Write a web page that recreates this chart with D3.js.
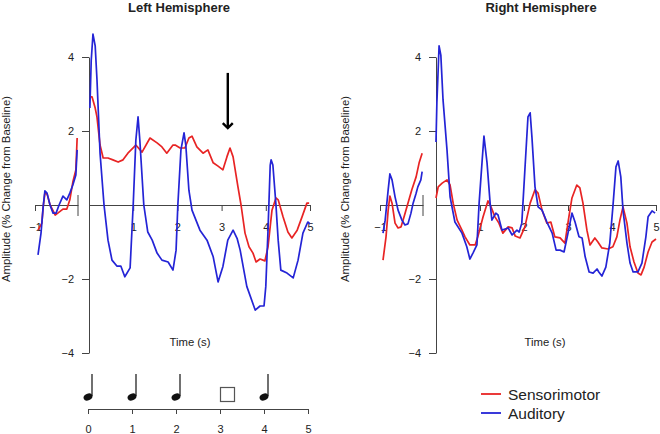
<!DOCTYPE html>
<html>
<head>
<meta charset="utf-8">
<script src="https://cdn.jsdelivr.net/npm/d3@7"></script>
<style>
body { margin: 0; background: #fff; }
svg text { font-family: "Liberation Sans", Arial, sans-serif; fill: #222; }
</style>
</head>
<body>
<svg id="vis" width="660" height="434"></svg>
<script>
// values: [time (s), amplitude (% change)]
var leftSensorimotorPre = [[-0.93,-0.68],[-0.84,-0.49],[-0.81,-0.05],[-0.77,0.32],[-0.72,0.3],[-0.65,0],[-0.53,-0.27],[-0.47,-0.22],[-0.35,-0.11],[-0.26,-0.11],[-0.19,0.14],[-0.12,0.62],[-0.05,0.95],[-0.02,1.81]];
var leftAuditoryPre = [[-0.93,-1.35],[-0.86,-0.76],[-0.81,-0.05],[-0.77,0.38],[-0.72,0.32],[-0.65,0],[-0.58,-0.22],[-0.51,-0.22],[-0.44,0],[-0.35,0.24],[-0.26,0.14],[-0.19,0.32],[-0.12,0.54],[-0.05,0.81],[-0.02,1.49]];
var leftSensorimotor = [[0.02,2.92],[0.07,2.92],[0.14,2.62],[0.18,2.38],[0.25,1.62],[0.32,1.27],[0.43,1.27],[0.54,1.22],[0.66,1.16],[0.77,1.22],[0.88,1.4],[1.06,1.62],[1.2,1.43],[1.38,1.81],[1.54,1.68],[1.65,1.57],[1.76,1.4],[1.9,1.62],[1.95,1.62],[2.06,1.54],[2.17,1.54],[2.26,1.81],[2.33,1.86],[2.44,1.57],[2.58,1.4],[2.69,1.49],[2.81,1.14],[2.92,1.05],[3.03,0.95],[3.12,1.3],[3.19,1.54],[3.26,1.3],[3.37,0.49],[3.44,0],[3.53,-0.76],[3.62,-1.13],[3.71,-1.3],[3.78,-1.54],[3.87,-1.46],[3.98,-1.51],[4.05,-1.13],[4.14,-0.14],[4.23,0.19],[4.28,0.14],[4.39,-0.32],[4.5,-0.73],[4.59,-0.89],[4.71,-0.68],[4.82,-0.32],[4.93,0.05],[4.98,0.05]];
var leftAuditory = [[0.02,2.62],[0.05,3.9],[0.09,4.62],[0.14,4.3],[0.18,3.4],[0.25,1.4],[0.34,0],[0.43,-0.95],[0.52,-1.49],[0.63,-1.65],[0.72,-1.65],[0.81,-1.94],[0.93,-1.7],[1.0,0],[1.06,1.75],[1.11,2.38],[1.15,1.75],[1.24,0],[1.33,-0.73],[1.43,-0.95],[1.54,-1.3],[1.65,-1.49],[1.79,-1.54],[1.9,-1.76],[1.97,-1.22],[2.01,0],[2.08,1.49],[2.15,1.95],[2.19,1.62],[2.26,0.4],[2.33,-0.14],[2.51,-0.68],[2.67,-0.95],[2.81,-1.4],[2.92,-2.08],[3.03,-1.66],[3.14,-0.95],[3.26,-0.68],[3.35,-0.9],[3.42,-1.22],[3.57,-2.2],[3.76,-2.84],[3.87,-2.73],[3.96,-2.73],[4.0,-2.2],[4.05,-0.68],[4.1,1.08],[4.12,1.22],[4.16,1.08],[4.23,0],[4.28,-0.95],[4.34,-1.76],[4.48,-1.84],[4.62,-1.97],[4.73,-1.49],[4.84,-0.76],[4.95,-0.46],[5.0,-0.51]];

var rightSensorimotorPre = [[-0.93,-1.49],[-0.86,-0.86],[-0.81,-0.14],[-0.77,0.24],[-0.72,0.05],[-0.65,-0.49],[-0.58,-0.62],[-0.51,-0.59],[-0.44,-0.32],[-0.35,0.05],[-0.26,0.41],[-0.16,0.76],[-0.09,1.14],[-0.02,1.4]];
var rightAuditoryPre = [[-0.93,-0.76],[-0.88,-0.41],[-0.81,0.41],[-0.77,0.84],[-0.72,0.68],[-0.65,0.22],[-0.58,-0.14],[-0.49,-0.41],[-0.42,-0.54],[-0.35,-0.51],[-0.28,-0.22],[-0.23,0.05],[-0.16,0.32],[-0.12,0.49],[-0.05,0.68],[-0.02,0.9]];
var rightSensorimotor = [[0.0,0.19],[0.05,0.49],[0.14,0.59],[0.25,0.68],[0.32,0.54],[0.39,0.05],[0.48,-0.41],[0.59,-0.68],[0.66,-0.86],[0.77,-1.08],[0.89,-1.08],[0.95,-0.86],[1.07,-0.32],[1.18,0.11],[1.25,-0.05],[1.34,-0.32],[1.43,-0.49],[1.52,-0.76],[1.64,-0.59],[1.73,-0.62],[1.8,-0.84],[1.91,-0.89],[2.02,-0.59],[2.14,0.05],[2.25,0.41],[2.32,0.32],[2.41,-0.14],[2.52,-0.49],[2.61,-0.46],[2.7,-0.86],[2.82,-0.89],[2.93,-1.03],[3.02,-0.32],[3.09,0.19],[3.2,0.54],[3.27,0.46],[3.34,0.05],[3.43,-0.68],[3.5,-1.08],[3.61,-0.89],[3.68,-1.0],[3.77,-1.16],[3.91,-1.19],[4.02,-1.13],[4.11,-0.86],[4.18,-0.41],[4.25,-0.05],[4.34,-0.49],[4.41,-1.13],[4.5,-1.54],[4.59,-1.84],[4.66,-1.89],[4.73,-1.68],[4.82,-1.27],[4.91,-1.0],[5.0,-0.92]];
var rightAuditory = [[0.0,1.7],[0.02,2.76],[0.07,4.3],[0.11,4.05],[0.16,2.84],[0.25,1.49],[0.32,0.22],[0.43,-0.46],[0.59,-0.76],[0.7,-1.13],[0.77,-1.46],[0.84,-1.3],[0.93,-1.08],[0.98,0.05],[1.05,1.22],[1.09,1.86],[1.16,1.14],[1.23,0.05],[1.27,-0.41],[1.36,-0.22],[1.41,-0.27],[1.5,-0.68],[1.57,-0.65],[1.64,-0.62],[1.73,-0.81],[1.84,-0.68],[1.89,-0.73],[1.95,-0.49],[2.02,0.95],[2.09,2.38],[2.14,2.49],[2.18,1.84],[2.25,0.49],[2.32,-0.05],[2.41,-0.14],[2.52,-0.46],[2.64,-0.76],[2.73,-1.22],[2.82,-1.22],[2.91,-1.27],[3.0,-0.76],[3.09,-0.22],[3.16,-0.46],[3.25,-0.86],[3.32,-0.89],[3.39,-1.4],[3.48,-1.81],[3.57,-1.84],[3.66,-1.73],[3.7,-1.81],[3.77,-1.92],[3.86,-1.68],[3.95,-1.03],[4.02,-0.05],[4.09,1.03],[4.14,1.19],[4.2,0.76],[4.25,-0.14],[4.34,-1.03],[4.41,-1.57],[4.48,-1.81],[4.59,-1.81],[4.68,-1.57],[4.77,-0.86],[4.82,-0.32],[4.91,-0.16],[4.98,-0.22]];

var seriesNames = ["Sensorimotor", "Auditory"];
var seriesColors = ["#e82424", "#2424d6"];
var yTicks = [-4, -2, 2, 4];
var xTicks = [1, 2, 3, 4, 5];
var preTicks = [-1];
var stripTicks = [0, 1, 2, 3, 4, 5];
var beatTimes = [0, 1, 2, 4];   // notes
var probeTimes = [3];           // empty square
var arrowTime = 3.14, arrowFrom = 3.57, arrowTo = 2.08;

var svg = d3.select("#vis");
var fmt = d3.format("d");

var panels = [
  { title: "Left Hemisphere", titleX: 179, preLeft: 35, axisX: 89, axisRight: 310, yTitleX: 10, timeX: 190,
    pre: [leftSensorimotorPre, leftAuditoryPre], main: [leftSensorimotor, leftAuditory], arrow: true },
  { title: "Right Hemisphere", titleX: 541, preLeft: 380, axisX: 436, axisRight: 656, yTitleX: 349, timeX: 545,
    pre: [rightSensorimotorPre, rightAuditoryPre], main: [rightSensorimotor, rightAuditory], arrow: false }
];

function styleAxis(g) {
  g.selectAll("path, line").attr("stroke", "#444").attr("stroke-width", 1);
  g.selectAll("text").style("font-size", "11px").attr("fill", "#222");
}

var y = d3.scaleLinear().domain([-4, 4]).range([353, 57]);

panels.forEach(function(p) {
  var xPre = d3.scaleLinear().domain([-1, 0]).range([p.preLeft, p.preLeft + 43]);
  var xMain = d3.scaleLinear().domain([0, 5]).range([p.axisX, p.axisRight]);
  var g = svg.append("g");

  g.append("text")
    .attr("x", p.titleX).attr("y", 12)
    .attr("text-anchor", "middle")
    .style("font-size", "13px").style("font-weight", "bold")
    .text(p.title);

  var yG = g.append("g").attr("transform", "translate(" + p.axisX + ",0)")
    .call(d3.axisLeft(y).tickValues(yTicks).tickFormat(fmt).tickSize(7).tickPadding(8).tickSizeOuter(0));
  styleAxis(yG);

  var xG = g.append("g").attr("transform", "translate(0," + y(0) + ")")
    .call(d3.axisBottom(xMain).tickValues(xTicks).tickFormat(fmt).tickSize(6).tickPadding(12).tickSizeOuter(0));
  styleAxis(xG);

  var preG = g.append("g").attr("transform", "translate(0," + y(0) + ")")
    .call(d3.axisBottom(xPre).tickValues(preTicks).tickFormat(fmt).tickSize(6).tickPadding(12).tickSizeOuter(0));
  styleAxis(preG);
  // end bar of the baseline segment
  g.append("line")
    .attr("x1", xPre(0)).attr("x2", xPre(0))
    .attr("y1", y(0) - 10).attr("y2", y(0) + 11)
    .attr("stroke", "#444");

  g.append("text")
    .attr("transform", "translate(" + p.yTitleX + ",189) rotate(-90)")
    .attr("text-anchor", "middle")
    .style("font-size", "11.3px")
    .text("Amplitude (% Change from Baseline)");

  g.append("text")
    .attr("x", p.timeX).attr("y", 346)
    .attr("text-anchor", "middle")
    .style("font-size", "11.3px")
    .text("Time (s)");

  var preLine = d3.line().x(function(d) { return xPre(d[0]); }).y(function(d) { return y(d[1]); });
  var mainLine = d3.line().x(function(d) { return xMain(d[0]); }).y(function(d) { return y(d[1]); });

  [0, 1].forEach(function(i) {
    g.append("path").datum(p.pre[i])
      .attr("d", preLine).attr("fill", "none")
      .attr("stroke", seriesColors[i]).attr("stroke-width", 1.7).attr("stroke-linejoin", "round");
    g.append("path").datum(p.main[i])
      .attr("d", mainLine).attr("fill", "none")
      .attr("stroke", seriesColors[i]).attr("stroke-width", 1.7).attr("stroke-linejoin", "round");
  });

  if (p.arrow) {
    var ax = xMain(arrowTime), y1 = y(arrowFrom), y2 = y(arrowTo);
    g.append("line").attr("x1", ax).attr("x2", ax).attr("y1", y1).attr("y2", y2 - 1)
      .attr("stroke", "#000").attr("stroke-width", 2.4);
    g.append("path")
      .attr("d", "M" + (ax - 5) + "," + (y2 - 5) + "L" + ax + "," + y2 + "L" + (ax + 5) + "," + (y2 - 5))
      .attr("fill", "none").attr("stroke", "#000").attr("stroke-width", 2.4);
  }
});

// stimulus strip under the left panel
var xStrip = d3.scaleLinear().domain([0, 5]).range([88, 308]);
var stripG = svg.append("g").attr("transform", "translate(0,409)")
  .call(d3.axisBottom(xStrip).tickValues(stripTicks).tickFormat(fmt).tickSize(5).tickPadding(11).tickSizeOuter(0));
styleAxis(stripG);

var notes = svg.append("g");
beatTimes.forEach(function(t) {
  var cx = xStrip(t);
  notes.append("ellipse")
    .attr("cx", cx).attr("cy", 397).attr("rx", 4.6).attr("ry", 3.3)
    .attr("transform", "rotate(-25," + cx + ",397)")
    .attr("fill", "#111");
  notes.append("line")
    .attr("x1", cx + 4).attr("x2", cx + 4).attr("y1", 396).attr("y2", 374)
    .attr("stroke", "#111").attr("stroke-width", 1.2);
});
probeTimes.forEach(function(t) {
  notes.append("rect")
    .attr("x", xStrip(t) + 0.5).attr("y", 387.5).attr("width", 14).attr("height", 14)
    .attr("fill", "#fff").attr("stroke", "#555").attr("stroke-width", 1.2);
});

// legend
var legend = svg.append("g");
seriesNames.forEach(function(name, i) {
  var ly = 394 + i * 19;
  legend.append("line").attr("x1", 481).attr("x2", 501).attr("y1", ly).attr("y2", ly)
    .attr("stroke", seriesColors[i]).attr("stroke-width", 1.8);
  legend.append("text").attr("x", 508).attr("y", ly + 5.5)
    .style("font-size", "15.5px").text(name);
});
</script>
</body>
</html>
